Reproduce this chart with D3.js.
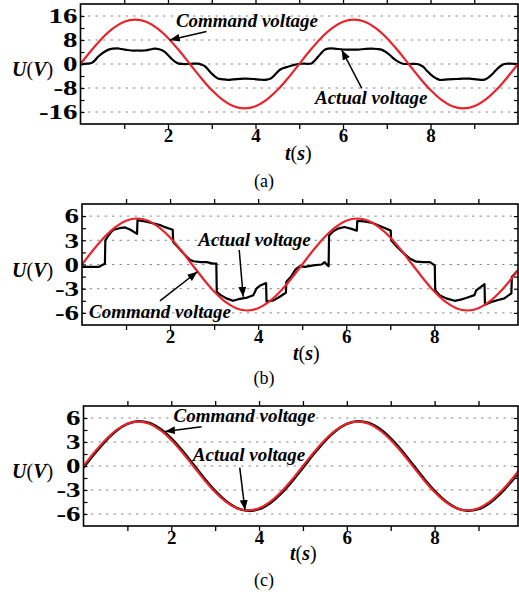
<!DOCTYPE html>
<html>
<head>
<meta charset="utf-8">
<script src="https://cdn.jsdelivr.net/npm/d3@7"></script>
<style>
  html, body { margin: 0; padding: 0; background: #fff; }
  svg { display: block; }
  text { font-family: "Liberation Serif", "Times New Roman", serif; }
</style>
</head>
<body>
<svg id="chart" width="519" height="594"></svg>
<script>
// ---- data ----------------------------------------------------------------
// Command voltages sampled every 0.25 s from t = 0 to t = 10 s
const sampleStep = 0.25;
const commandA = [0, 4.57, 8.70, 11.97, 14.08, 14.8, 14.08, 11.97, 8.70, 4.57,
  0, -4.57, -8.70, -11.97, -14.08, -14.8, -14.08, -11.97, -8.70, -4.57,
  0, 4.57, 8.70, 11.97, 14.08, 14.8, 14.08, 11.97, 8.70, 4.57,
  0, -4.57, -8.70, -11.97, -14.08, -14.8, -14.08, -11.97, -8.70, -4.57, 0];
const commandB = [0, 1.76, 3.35, 4.61, 5.42, 5.7, 5.42, 4.61, 3.35, 1.76,
  0, -1.76, -3.35, -4.61, -5.42, -5.7, -5.42, -4.61, -3.35, -1.76,
  0, 1.76, 3.35, 4.61, 5.42, 5.7, 5.42, 4.61, 3.35, 1.76,
  0, -1.76, -3.35, -4.61, -5.42, -5.7, -5.42, -4.61, -3.35, -1.76, 0];
const commandC = [0, 1.72, 3.26, 4.49, 5.28, 5.55, 5.28, 4.49, 3.26, 1.72,
  0, -1.72, -3.26, -4.49, -5.28, -5.55, -5.28, -4.49, -3.26, -1.72,
  0, 1.72, 3.26, 4.49, 5.28, 5.55, 5.28, 4.49, 3.26, 1.72,
  0, -1.72, -3.26, -4.49, -5.28, -5.55, -5.28, -4.49, -3.26, -1.72, 0];
const actualC = [-0.21, 1.53, 3.12, 4.40, 5.26, 5.60, 5.39, 4.65, 3.46, 1.93,
  0.21, -1.53, -3.12, -4.40, -5.26, -5.60, -5.39, -4.65, -3.46, -1.93,
  -0.21, 1.53, 3.12, 4.40, 5.26, 5.60, 5.39, 4.65, 3.46, 1.93,
  0.21, -1.53, -3.12, -4.40, -5.26, -5.60, -5.39, -4.65, -3.46, -1.93, -0.21];

// Measured actual voltage, panel (a)
const actualATime = [0, 0.15, 0.25, 0.33, 0.4, 0.48, 0.55, 0.64, 0.74, 0.85,
  0.93, 1.05, 1.16, 1.3, 1.46, 1.58, 1.69, 1.8, 1.92, 2.0,
  2.07, 2.15, 2.23, 2.35, 2.45, 2.58, 2.68, 2.76, 2.84, 2.92,
  2.99, 3.07, 3.14, 3.25, 3.37, 3.5, 3.76, 3.95, 4.1, 4.21,
  4.3, 4.37, 4.45, 4.55, 4.65, 4.74, 4.85, 4.97, 5.1, 5.28,
  5.35, 5.43, 5.5, 5.58, 5.66, 5.74, 5.9, 6.04, 6.2, 6.34,
  6.5, 6.65, 6.78, 6.88, 6.97, 7.07, 7.16, 7.26, 7.37, 7.5,
  7.68, 7.76, 7.83, 7.92, 8.02, 8.12, 8.21, 8.4, 8.59, 8.75,
  8.89, 9.05, 9.2, 9.28, 9.35, 9.45, 9.54, 9.62, 9.69, 9.8, 10];
const actualAVolt = [-0.1, 0.1, 0.3, 1.2, 2.4, 3.4, 4.1, 4.8, 5.1, 5.2,
  5.0, 4.7, 4.5, 4.5, 4.5, 4.8, 5.1, 4.9, 4.1, 3.0,
  1.9, 0.9, 0.2, 0.0, 0.0, 0.1, 0.1, -0.2, -0.7, -1.9,
  -3.1, -4.1, -4.8, -5.1, -5.3, -5.1, -4.9, -5.0, -5.2, -5.3,
  -5.1, -4.6, -3.5, -2.0, -1.3, -0.9, -0.4, 0.0, 0.1, 0.2,
  1.1, 2.4, 3.6, 4.7, 5.1, 5.2, 5.0, 4.8, 4.8, 4.8,
  5.0, 5.1, 5.0, 4.8, 4.1, 3.0, 1.8, 0.8, 0.1, 0.0,
  0.0, -0.3, -0.9, -2.3, -3.7, -4.7, -5.3, -5.1, -5.0, -4.9,
  -4.9, -5.1, -5.3, -4.9, -4.2, -2.8, -1.4, -0.5, 0.0, 0.1, 0.0];

// Measured actual voltage, panel (b)
const actualBTime = [0, 0.2, 0.38, 0.45, 0.52, 0.53, 0.6, 0.66, 0.72, 0.85,
  0.98, 1.1, 1.25, 1.26, 1.46, 1.62, 1.77, 1.9, 2.06, 2.07,
  2.2, 2.3, 2.38, 2.45, 2.53, 2.7, 2.83, 2.98, 3.05, 3.06,
  3.15, 3.28, 3.43, 3.55, 3.75, 3.89, 3.96, 4.05, 4.18, 4.19,
  4.35, 4.49, 4.6, 4.63, 4.64,
  4.75, 4.85, 4.95, 5.06, 5.25, 5.44, 5.51, 5.57, 5.6, 5.61,
  5.7, 5.81, 5.96, 6.1, 6.24, 6.25, 6.4, 6.57, 6.75, 6.9,
  7.01, 7.02, 7.15, 7.3, 7.44, 7.59, 7.75, 7.9, 8.01, 8.02,
  8.12, 8.27, 8.46, 8.6, 8.72, 8.91, 8.95, 9.05, 9.14, 9.15,
  9.32, 9.45, 9.59, 9.74, 9.75, 9.76, 9.9];
const actualBVolt = [-0.3, -0.3, -0.3, -0.1, 0.1, 3.0, 3.6, 4.0, 4.3, 4.5,
  4.6, 4.3, 3.8, 5.5, 5.3, 5.1, 4.9, 4.6, 4.3, 2.8,
  2.0, 1.4, 0.95, 0.6, 0.4, 0.3, 0.3, 0.1, 0.1, -3.4,
  -3.8, -4.2, -4.5, -4.3, -4.1, -3.8, -3.0, -2.6, -2.3, -4.6,
  -4.45, -4.0, -3.6, -3.5, -2.15,
  -1.5, -0.6, -0.2, -0.3, -0.1, 0.0, 0.3, -0.1, -0.2, 3.6,
  4.1, 4.45, 4.65, 4.45, 4.2, 5.4, 5.35, 5.2, 4.8, 4.45,
  4.2, 3.0, 2.2, 1.4, 0.75, 0.35, 0.3, 0.3, -0.1, -3.2,
  -3.8, -4.2, -4.5, -4.35, -4.15, -3.8, -3.2, -2.8, -2.45, -5.0,
  -4.6, -4.4, -4.2, -3.6, -3.6, -1.55, -0.7];

// Axis ticks and labels
const timeTicks = [1, 2, 3, 4, 5, 6, 7, 8, 9];
const timeTickLabels = [2, 4, 6, 8];
const voltTickLabelsA = [16, 8, 0, -8, -16];
const voltTickLabelsBC = [6, 3, 0, -3, -6];
const noteLabels = ["Command voltage", "Actual voltage"];
const captions = ["(a)", "(b)", "(c)"];

// ---- layout ----------------------------------------------------------------
const sampleTimes = d3.range(0, 10 + 1e-9, sampleStep);
const panels = [
  { xDomain: [0, 10], xRange: [80.5, 518], yDomain: [-20, 20], yRange: [124, 4],
    major: voltTickLabelsA, minorStep: 4,
    command: commandA, actT: actualATime, actV: actualAVolt, actCurve: d3.curveCatmullRom,
    notes: [ { label: 0, at: [2.18, 12.3], from: [2.88, 10.8], to: [2.04, 8.0] },
             { label: 1, at: [5.36, -13.3], from: [6.43, -8.1], to: [5.97, 4.7] } ],
    tLabelX: 285, tLabelY: 160, captionY: 187 },
  { xDomain: [0, 9.9], xRange: [82, 518], yDomain: [-7.5, 7.5], yRange: [325, 204],
    major: voltTickLabelsBC, minorStep: 1.5,
    command: commandB, actT: actualBTime, actV: actualBVolt, actCurve: d3.curveLinear,
    notes: [ { label: 1, at: [2.64, 2.3], from: [3.57, 1.8], to: [3.66, -4.0] },
             { label: 0, at: [0.16, -6.6], from: [1.77, -4.5], to: [2.62, -0.9] } ],
    tLabelX: 293, tLabelY: 360, captionY: 384 },
  { xDomain: [0, 9.9], xRange: [83.5, 518], yDomain: [-7.5, 7.5], yRange: [526, 406],
    major: voltTickLabelsBC, minorStep: 1.5,
    command: commandC, actT: sampleTimes, actV: actualC, actCurve: d3.curveMonotoneX,
    notes: [ { label: 0, at: [2.05, 5.5], from: [2.69, 4.9], to: [1.86, 4.3] },
             { label: 1, at: [2.49, 0.6], from: [3.56, -0.2], to: [3.68, -5.5] } ],
    tLabelX: 290, tLabelY: 560, captionY: 586 }
];

const RED = "#e8242b";
const svg = d3.select("#chart");
const defs = svg.append("defs");
defs.append("marker")
  .attr("id", "arrowHead")
  .attr("viewBox", "0 0 10 8")
  .attr("refX", 10).attr("refY", 4)
  .attr("markerWidth", 10).attr("markerHeight", 8)
  .attr("markerUnits", "userSpaceOnUse")
  .attr("orient", "auto")
  .append("path").attr("d", "M0,0L10,4L0,8Z").attr("fill", "#000");

panels.forEach((p, i) => {
  const x = d3.scaleLinear().domain(p.xDomain).range(p.xRange);
  const y = d3.scaleLinear().domain(p.yDomain).range(p.yRange);
  const [x0, x1] = p.xRange;
  const [yb, yt] = p.yRange;
  const g = svg.append("g");

  defs.append("clipPath").attr("id", "plotClip" + i)
    .append("rect").attr("x", x0).attr("y", yt).attr("width", x1 - x0).attr("height", yb - yt);

  // dotted grid at the labelled voltages
  g.append("g").selectAll("line").data(p.major).join("line")
    .attr("x1", x0).attr("x2", x1)
    .attr("y1", d => y(d)).attr("y2", d => y(d))
    .attr("stroke", "#8c8c8c").attr("stroke-width", 1)
    .attr("stroke-dasharray", "2.5,5");

  // time axes (bottom labelled, top plain)
  const bottom = g.append("g").attr("transform", `translate(0,${yb})`)
    .call(d3.axisBottom(x).tickValues(timeTicks).tickSize(5).tickPadding(0)
      .tickFormat(d => timeTickLabels.includes(d) ? d : ""));
  bottom.select(".domain").remove();
  bottom.selectAll(".tick line").attr("stroke", "#000").attr("stroke-width", 1.3);
  bottom.selectAll(".tick text")
    .attr("font-family", "Liberation Serif, serif").attr("font-size", 19)
    .attr("font-weight", "bold").attr("fill", "#000");

  const top = g.append("g").attr("transform", `translate(0,${yt})`)
    .call(d3.axisTop(x).tickValues(timeTicks).tickSize(5).tickFormat(""));
  top.select(".domain").remove();
  top.selectAll(".tick line").attr("stroke", "#000").attr("stroke-width", 1.3);

  // voltage axes: ticks every minor step, labels on the major values
  const yMax = p.major[0];
  const voltTicks = d3.range(-yMax, yMax + 1e-9, p.minorStep);
  const left = g.append("g").attr("transform", `translate(${x0},0)`)
    .call(d3.axisLeft(y).tickValues(voltTicks).tickSize(-4).tickPadding(0)
      .tickFormat(d => p.major.some(m => Math.abs(m - d) < 1e-6) ? d : ""));
  left.select(".domain").remove();
  left.selectAll(".tick line").attr("stroke", "#000").attr("stroke-width", 1.2);
  left.selectAll(".tick text")
    .attr("font-family", "Liberation Serif, serif").attr("font-size", 20)
    .attr("font-weight", "bold").attr("fill", "#000")
    .attr("x", -3 / 1.45).attr("dy", "0.34em")
    .attr("transform", "scale(1.45,1)");

  const right = g.append("g").attr("transform", `translate(${x1},0)`)
    .call(d3.axisRight(y).tickValues(voltTicks).tickSize(-4).tickFormat(""));
  right.select(".domain").remove();
  right.selectAll(".tick line").attr("stroke", "#000").attr("stroke-width", 1.2);

  // curves
  const plot = g.append("g").attr("clip-path", `url(#plotClip${i})`);
  const actualPts = p.actT.map((t, k) => [t, p.actV[k]]);
  const commandPts = sampleTimes.map((t, k) => [t, p.command[k]]);
  plot.append("path")
    .attr("d", d3.line().x(d => x(d[0])).y(d => y(d[1])).curve(p.actCurve)(actualPts))
    .attr("fill", "none").attr("stroke", "#000")
    .attr("stroke-width", i === 2 ? 2.6 : 2.2).attr("stroke-linejoin", "round");
  plot.append("path")
    .attr("d", d3.line().x(d => x(d[0])).y(d => y(d[1])).curve(d3.curveMonotoneX)(commandPts))
    .attr("fill", "none").attr("stroke", RED).attr("stroke-width", 2.2);

  // frame
  g.append("rect").attr("x", x0).attr("y", yt).attr("width", x1 - x0).attr("height", yb - yt)
    .attr("fill", "none").attr("stroke", "#000").attr("stroke-width", 1.6);

  // annotations
  p.notes.forEach(n => {
    g.append("line")
      .attr("x1", x(n.from[0])).attr("y1", y(n.from[1]))
      .attr("x2", x(n.to[0])).attr("y2", y(n.to[1]))
      .attr("stroke", "#000").attr("stroke-width", 1.5)
      .attr("marker-end", "url(#arrowHead)");
    g.append("text")
      .attr("x", x(n.at[0])).attr("y", y(n.at[1]))
      .attr("font-size", 19).attr("font-weight", "bold").attr("font-style", "italic")
      .attr("fill", "#000")
      .text(noteLabels[n.label]);
  });

  // axis titles
  const uTitle = g.append("text").attr("x", 12).attr("y", y(0) + 12)
    .attr("font-size", 20).attr("font-weight", "bold").attr("fill", "#000");
  uTitle.append("tspan").attr("font-style", "italic").text("U");
  uTitle.append("tspan").attr("font-weight", "normal").text("(");
  uTitle.append("tspan").attr("font-style", "italic").text("V");
  uTitle.append("tspan").attr("font-weight", "normal").text(")");

  const tTitle = g.append("text").attr("x", p.tLabelX).attr("y", p.tLabelY)
    .attr("font-size", 20).attr("font-weight", "bold").attr("fill", "#000");
  tTitle.append("tspan").attr("font-style", "italic").text("t");
  tTitle.append("tspan").attr("font-weight", "normal").text("(");
  tTitle.append("tspan").attr("font-style", "italic").text("s");
  tTitle.append("tspan").attr("font-weight", "normal").text(")");

  g.append("text").attr("x", 264).attr("y", p.captionY)
    .attr("text-anchor", "middle").attr("font-size", 18).attr("fill", "#000")
    .text(captions[i]);
});
</script>
</body>
</html>
